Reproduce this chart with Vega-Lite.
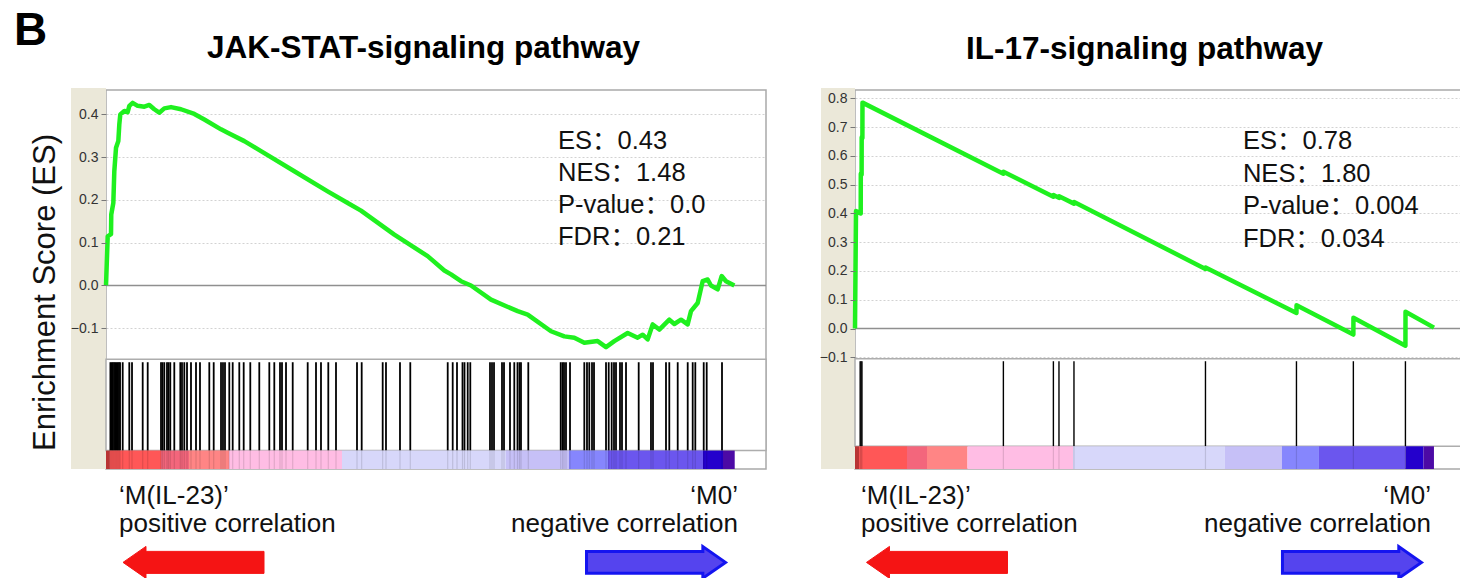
{
  "$schema": "https://vega.github.io/schema/vega-lite/v6.json",
  "background": "white",
  "padding": {"left": 13, "top": 7, "right": 0, "bottom": 0},
  "bounds": "flush",
  "spacing": 89,
  "config": {
    "font": "Liberation Sans, Arial, Noto Sans CJK SC, sans-serif",
    "view": {"stroke": "#a9a9a9", "strokeWidth": 1.5}
  },
  "datasets": {
    "jak_es": [
      {"rank": 0, "es": 0}, {"rank": 70, "es": 0.115}, {"rank": 205, "es": 0.12}, {"rank": 215, "es": 0.166},
      {"rank": 300, "es": 0.193}, {"rank": 340, "es": 0.267}, {"rank": 410, "es": 0.322}, {"rank": 505, "es": 0.338},
      {"rank": 545, "es": 0.377}, {"rank": 585, "es": 0.4}, {"rank": 750, "es": 0.408}, {"rank": 885, "es": 0.405},
      {"rank": 955, "es": 0.42}, {"rank": 1090, "es": 0.427}, {"rank": 1295, "es": 0.42}, {"rank": 1570, "es": 0.418},
      {"rank": 1773, "es": 0.422}, {"rank": 1975, "es": 0.412}, {"rank": 2180, "es": 0.404}, {"rank": 2385, "es": 0.414},
      {"rank": 2660, "es": 0.417}, {"rank": 3068, "es": 0.412}, {"rank": 3613, "es": 0.401}, {"rank": 4022, "es": 0.388},
      {"rank": 4704, "es": 0.365}, {"rank": 4977, "es": 0.357}, {"rank": 5659, "es": 0.3375}, {"rank": 6341, "es": 0.314},
      {"rank": 7704, "es": 0.267}, {"rank": 9068, "es": 0.22}, {"rank": 9977, "es": 0.19}, {"rank": 10432, "es": 0.175},
      {"rank": 11795, "es": 0.119}, {"rank": 13159, "es": 0.0686}, {"rank": 13841, "es": 0.035}, {"rank": 14114, "es": 0.026},
      {"rank": 14523, "es": 0.01}, {"rank": 14932, "es": 0.0}, {"rank": 15750, "es": -0.033}, {"rank": 16841, "es": -0.06},
      {"rank": 17250, "es": -0.068}, {"rank": 18205, "es": -0.107}, {"rank": 18750, "es": -0.119}, {"rank": 19159, "es": -0.122},
      {"rank": 19568, "es": -0.134}, {"rank": 20114, "es": -0.13}, {"rank": 20455, "es": -0.144}, {"rank": 20795, "es": -0.13},
      {"rank": 21341, "es": -0.111}, {"rank": 21750, "es": -0.122}, {"rank": 21955, "es": -0.115}, {"rank": 22160, "es": -0.126},
      {"rank": 22364, "es": -0.091}, {"rank": 22636, "es": -0.103}, {"rank": 23045, "es": -0.08}, {"rank": 23250, "es": -0.09},
      {"rank": 23523, "es": -0.08}, {"rank": 23795, "es": -0.091}, {"rank": 23932, "es": -0.06}, {"rank": 24205, "es": -0.041},
      {"rank": 24409, "es": 0.01}, {"rank": 24614, "es": 0.014}, {"rank": 24750, "es": 0.0}, {"rank": 25023, "es": -0.009},
      {"rank": 25186, "es": 0.022}, {"rank": 25364, "es": 0.01}, {"rank": 25705, "es": 0.0}
    ],
    "jak_hits": [
      {"rank": 180}, {"rank": 230}, {"rank": 280}, {"rank": 330}, {"rank": 380}, {"rank": 430}, {"rank": 480}, {"rank": 530}, {"rank": 575},
      {"rank": 683}, {"rank": 953}, {"rank": 1064}, {"rank": 1501}, {"rank": 1706}, {"rank": 2250}, {"rank": 2311}, {"rank": 2385},
      {"rank": 2495}, {"rank": 2557}, {"rank": 2630}, {"rank": 2794}, {"rank": 3040}, {"rank": 3109}, {"rank": 3203}, {"rank": 3314},
      {"rank": 3477}, {"rank": 3682}, {"rank": 3845}, {"rank": 4226}, {"rank": 4406}, {"rank": 4705}, {"rank": 4786}, {"rank": 4868},
      {"rank": 5044}, {"rank": 5183}, {"rank": 5453}, {"rank": 5633}, {"rank": 5903}, {"rank": 6271}, {"rank": 6681}, {"rank": 6885},
      {"rank": 7118}, {"rank": 7200}, {"rank": 7364}, {"rank": 7638}, {"rank": 8251}, {"rank": 8591}, {"rank": 8795}, {"rank": 9094},
      {"rank": 9409}, {"rank": 10268}, {"rank": 10460}, {"rank": 11319}, {"rank": 11454}, {"rank": 12027}, {"rank": 12448},
      {"rank": 13979}, {"rank": 14183}, {"rank": 14359}, {"rank": 14584}, {"rank": 14666}, {"rank": 14797}, {"rank": 14903},
      {"rank": 15709}, {"rank": 15791}, {"rank": 15873}, {"rank": 16200}, {"rank": 16282}, {"rank": 16527}, {"rank": 16703},
      {"rank": 16834}, {"rank": 16916}, {"rank": 16977}, {"rank": 17276}, {"rank": 18602}, {"rank": 18676}, {"rank": 18737},
      {"rank": 18818}, {"rank": 18982}, {"rank": 19567}, {"rank": 19677}, {"rank": 19771}, {"rank": 19882}, {"rank": 19964},
      {"rank": 20455}, {"rank": 20565}, {"rank": 20687}, {"rank": 20782}, {"rank": 20864}, {"rank": 21027}, {"rank": 21109},
      {"rank": 21273}, {"rank": 21792}, {"rank": 22295}, {"rank": 22377}, {"rank": 22909}, {"rank": 23044}, {"rank": 23388},
      {"rank": 23797}, {"rank": 24001}, {"rank": 24108}, {"rank": 24452}, {"rank": 24574}, {"rank": 25200}
    ],
    "jak_bar": [
      {"seg": 1, "start": 0, "end": 160}, {"seg": 2, "start": 160, "end": 2250}, {"seg": 3, "start": 2250, "end": 3395},
      {"seg": 4, "start": 3395, "end": 5032}, {"seg": 5, "start": 5032, "end": 9655}, {"seg": 6, "start": 9655, "end": 16364},
      {"seg": 7, "start": 16364, "end": 18941}, {"seg": 8, "start": 18941, "end": 20536}, {"seg": 9, "start": 20536, "end": 24423},
      {"seg": 10, "start": 24423, "end": 25241}, {"seg": 11, "start": 25241, "end": 25720}
    ],
    "il_es": [
      {"rank": 0, "es": 0}, {"rank": 45, "es": 0.408}, {"rank": 255, "es": 0.4}, {"rank": 258, "es": 0.538},
      {"rank": 295, "es": 0.535}, {"rank": 298, "es": 0.665}, {"rank": 330, "es": 0.662}, {"rank": 333, "es": 0.785},
      {"rank": 6611, "es": 0.538}, {"rank": 6615, "es": 0.545}, {"rank": 8839, "es": 0.458}, {"rank": 8843, "es": 0.464},
      {"rank": 9088, "es": 0.454}, {"rank": 9092, "es": 0.46}, {"rank": 9756, "es": 0.434}, {"rank": 9760, "es": 0.44},
      {"rank": 15615, "es": 0.207}, {"rank": 15619, "es": 0.212}, {"rank": 19669, "es": 0.054}, {"rank": 19673, "es": 0.081},
      {"rank": 22204, "es": -0.021}, {"rank": 22208, "es": 0.037}, {"rank": 24524, "es": -0.06}, {"rank": 24528, "es": 0.058},
      {"rank": 25795, "es": 0.003}
    ],
    "il_hits": [
      {"rank": 230}, {"rank": 270}, {"rank": 310}, {"rank": 6611}, {"rank": 8839}, {"rank": 9088}, {"rank": 9756},
      {"rank": 15615}, {"rank": 19669}, {"rank": 22204}, {"rank": 24524}
    ],
    "il_bar": [
      {"seg": 1, "start": 0, "end": 178}, {"seg": 2, "start": 178, "end": 2317}, {"seg": 3, "start": 2317, "end": 3208},
      {"seg": 4, "start": 3208, "end": 5012}, {"seg": 5, "start": 5012, "end": 9712}, {"seg": 6, "start": 9712, "end": 16484},
      {"seg": 7, "start": 16484, "end": 19023}, {"seg": 8, "start": 19023, "end": 20671}, {"seg": 9, "start": 20671, "end": 24525},
      {"seg": 10, "start": 24525, "end": 25327}, {"seg": 11, "start": 25327, "end": 25795}
    ]
  },
  "hconcat": [
    {
      "width": 660,
      "height": 379,
      "resolve": {"axis": {"y": "independent"}},
      "layer": [
        {
          "data": {"values": [{}]},
          "mark": {"type": "rect", "color": "#ebe8d9", "clip": false},
          "encoding": {
            "x": {"datum": -1432, "type": "quantitative", "scale": {"domain": [0, 27000], "nice": false, "zero": false},
              "axis": {"grid": true, "gridDash": [2, 2], "gridColor": "#d2d2d2", "labels": false, "ticks": false, "domain": false, "title": null, "values": [5000, 10000, 15000, 20000, 25000], "zindex": 0}},
            "x2": {"datum": 0},
            "y": {"datum": -0.429, "type": "quantitative", "scale": {"domain": [-0.429, 0.457], "nice": false, "zero": false},
              "axis": {"orient": "left", "grid": true, "gridDash": [2, 2], "gridColor": "#d2d2d2", "labels": false, "ticks": false, "domain": false, "title": null, "values": [-0.1, 0.1, 0.2, 0.3, 0.4], "zindex": 0}},
            "y2": {"datum": 0.4615}
          }
        },
        {
          "data": {"values": [{}]},
          "mark": {"type": "rule", "color": "#8f8f8f", "strokeWidth": 1.3},
          "encoding": {
            "x": {"datum": 0, "type": "quantitative", "scale": {"domain": [0, 27000], "nice": false, "zero": false}, "axis": null},
            "x2": {"datum": 27000},
            "y": {"datum": 0, "type": "quantitative", "scale": {"domain": [-0.429, 0.457], "nice": false, "zero": false},
              "axis": {"orient": "left", "grid": false, "values": [-0.1, 0, 0.1, 0.2, 0.3, 0.4], "format": ".1f", "labelFontSize": 14, "labelColor": "#333333", "labelPadding": 3, "tickSize": 5, "tickColor": "#777777", "domain": false, "zindex": 1,
                "title": "Enrichment Score (ES)", "titleFontSize": 31, "titleFontWeight": "normal", "titleColor": "#111111", "titleX": -52, "titleY": 202, "titleAngle": 270, "titleAlign": "center", "titleBaseline": "alphabetic"}}
          }
        },
        {
          "data": {"name": "jak_es"},
          "mark": {"type": "line", "color": "#1ff01f", "strokeWidth": 4.5, "strokeJoin": "round"},
          "encoding": {
            "x": {"field": "rank", "type": "quantitative", "scale": {"domain": [0, 27000], "nice": false, "zero": false}, "axis": null},
            "y": {"field": "es", "type": "quantitative", "scale": {"domain": [-0.429, 0.457], "nice": false, "zero": false}, "axis": null}
          }
        },
        {
          "data": {"values": [{}]},
          "mark": {"type": "rect", "fill": "white", "stroke": "#adadad", "strokeWidth": 1.5},
          "encoding": {
            "x": {"datum": 0, "type": "quantitative", "scale": {"domain": [0, 27000], "nice": false, "zero": false}, "axis": null},
            "x2": {"datum": 27000},
            "y": {"datum": -0.1724, "type": "quantitative", "scale": {"domain": [-0.429, 0.457], "nice": false, "zero": false}, "axis": null},
            "y2": {"datum": -0.386}
          }
        },
        {
          "data": {"name": "jak_hits"},
          "mark": {"type": "rule", "color": "#000000", "strokeWidth": 1.8},
          "encoding": {
            "x": {"field": "rank", "type": "quantitative", "scale": {"domain": [0, 27000], "nice": false, "zero": false}, "axis": null},
            "y": {"datum": -0.1794, "type": "quantitative", "scale": {"domain": [-0.429, 0.457], "nice": false, "zero": false}, "axis": null},
            "y2": {"datum": -0.386}
          }
        },
        {
          "data": {"name": "jak_bar"},
          "mark": {"type": "rect"},
          "encoding": {
            "x": {"field": "start", "type": "quantitative", "scale": {"domain": [0, 27000], "nice": false, "zero": false}, "axis": null},
            "x2": {"field": "end"},
            "y": {"datum": -0.386, "type": "quantitative", "scale": {"domain": [-0.429, 0.457], "nice": false, "zero": false}, "axis": null},
            "y2": {"datum": -0.429},
            "color": {"field": "seg", "type": "ordinal", "legend": null,
              "scale": {"domain": [1, 2, 3, 4, 5, 6, 7, 8, 9, 10, 11], "range": ["#b83434", "#ff5757", "#f3667c", "#ff8585", "#ffbde4", "#d7d7fa", "#c6c0f7", "#8686fd", "#6b56ee", "#2400cc", "#4c0aa5"]}}
          }
        },
        {
          "data": {"name": "jak_hits"},
          "mark": {"type": "rule", "color": "#000000", "strokeWidth": 1.2, "opacity": 0.12},
          "encoding": {
            "x": {"field": "rank", "type": "quantitative", "scale": {"domain": [0, 27000], "nice": false, "zero": false}, "axis": null},
            "y": {"datum": -0.386, "type": "quantitative", "scale": {"domain": [-0.429, 0.457], "nice": false, "zero": false}, "axis": null},
            "y2": {"datum": -0.429}
          }
        },
        {
          "data": {"values": [{}]},
          "mark": {"type": "text", "align": "left", "baseline": "alphabetic", "fontSize": 25.5, "lineHeight": 32, "color": "#111111"},
          "encoding": {
            "x": {"datum": 18491, "type": "quantitative", "scale": {"domain": [0, 27000], "nice": false, "zero": false}, "axis": null},
            "y": {"datum": 0.3188, "type": "quantitative", "scale": {"domain": [-0.429, 0.457], "nice": false, "zero": false}, "axis": null},
            "text": {"value": ["ES：0.43", "NES：1.48", "P-value：0.0", "FDR：0.21"]}
          }
        },
        {
          "data": {"values": [{}]},
          "mark": {"type": "text", "align": "center", "baseline": "alphabetic", "fontSize": 31.5, "fontWeight": "bold", "color": "#000000"},
          "encoding": {
            "x": {"datum": 12989, "type": "quantitative", "scale": {"domain": [0, 27000], "nice": false, "zero": false}, "axis": null},
            "y": {"datum": 0.5326, "type": "quantitative", "scale": {"domain": [-0.429, 0.457], "nice": false, "zero": false}, "axis": null},
            "text": {"value": "JAK-STAT-signaling pathway"}
          }
        },
        {
          "data": {"values": [{}]},
          "mark": {"type": "text", "align": "left", "baseline": "alphabetic", "fontSize": 46, "fontWeight": "bold", "color": "#000000"},
          "encoding": {
            "x": {"datum": -3764, "type": "quantitative", "scale": {"domain": [0, 27000], "nice": false, "zero": false}, "axis": null},
            "y": {"datum": 0.5621, "type": "quantitative", "scale": {"domain": [-0.429, 0.457], "nice": false, "zero": false}, "axis": null},
            "text": {"value": "B"}
          }
        },
        {
          "data": {"values": [{}]},
          "mark": {"type": "text", "align": "left", "baseline": "alphabetic", "fontSize": 26, "lineHeight": 28, "color": "#111111"},
          "encoding": {
            "x": {"datum": 532, "type": "quantitative", "scale": {"domain": [0, 27000], "nice": false, "zero": false}, "axis": null},
            "y": {"datum": -0.5116, "type": "quantitative", "scale": {"domain": [-0.429, 0.457], "nice": false, "zero": false}, "axis": null},
            "text": {"value": ["‘M(IL-23)’", "positive correlation"]}
          }
        },
        {
          "data": {"values": [{}]},
          "mark": {"type": "text", "align": "right", "baseline": "alphabetic", "fontSize": 26, "lineHeight": 28, "color": "#111111"},
          "encoding": {
            "x": {"datum": 25855, "type": "quantitative", "scale": {"domain": [0, 27000], "nice": false, "zero": false}, "axis": null},
            "y": {"datum": -0.5116, "type": "quantitative", "scale": {"domain": [-0.429, 0.457], "nice": false, "zero": false}, "axis": null},
            "text": {"value": ["‘M0’", "negative correlation"]}
          }
        },
        {
          "data": {"values": [{}]},
          "mark": {"type": "point", "shape": "M-1,0 L-0.674,-0.227 L-0.674,-0.156 L1,-0.156 L1,0.156 L-0.674,0.156 L-0.674,0.227 Z", "size": 19881, "filled": true, "fill": "#f51414", "stroke": "#f51414", "strokeWidth": 1, "strokeJoin": "round", "opacity": 1},
          "encoding": {
            "x": {"datum": 3580, "type": "quantitative", "scale": {"domain": [0, 27000], "nice": false, "zero": false}, "axis": null},
            "y": {"datum": -0.6473, "type": "quantitative", "scale": {"domain": [-0.429, 0.457], "nice": false, "zero": false}, "axis": null}
          }
        },
        {
          "data": {"values": [{}]},
          "mark": {"type": "point", "shape": "M1,0 L0.674,-0.227 L0.674,-0.156 L-1,-0.156 L-1,0.156 L0.674,0.156 L0.674,0.227 Z", "size": 19321, "filled": true, "fill": "#5544ee", "stroke": "#1414f0", "strokeWidth": 3, "opacity": 1},
          "encoding": {
            "x": {"datum": 22500, "type": "quantitative", "scale": {"domain": [0, 27000], "nice": false, "zero": false}, "axis": null},
            "y": {"datum": -0.6473, "type": "quantitative", "scale": {"domain": [-0.429, 0.457], "nice": false, "zero": false}, "axis": null}
          }
        }
      ]
    },
    {
      "width": 606,
      "height": 379,
      "resolve": {"axis": {"y": "independent"}},
      "layer": [
        {
          "data": {"values": [{}]},
          "mark": {"type": "rect", "color": "#ebe8d9", "clip": false},
          "encoding": {
            "x": {"datum": -1515, "type": "quantitative", "scale": {"domain": [0, 27000], "nice": false, "zero": false},
              "axis": {"grid": true, "gridDash": [2, 2], "gridColor": "#d2d2d2", "labels": false, "ticks": false, "domain": false, "title": null, "values": [5000, 10000, 15000, 20000, 25000], "zindex": 0}},
            "x2": {"datum": 0},
            "y": {"datum": -0.4883, "type": "quantitative", "scale": {"domain": [-0.4883, 0.8289], "nice": false, "zero": false},
              "axis": {"orient": "left", "grid": true, "gridDash": [2, 2], "gridColor": "#d2d2d2", "labels": false, "ticks": false, "domain": false, "title": null, "values": [-0.1, 0.1, 0.2, 0.3, 0.4, 0.5, 0.6, 0.7, 0.8], "zindex": 0}},
            "y2": {"datum": 0.8359}
          }
        },
        {
          "data": {"values": [{}]},
          "mark": {"type": "rule", "color": "#8f8f8f", "strokeWidth": 1.3},
          "encoding": {
            "x": {"datum": 0, "type": "quantitative", "scale": {"domain": [0, 27000], "nice": false, "zero": false}, "axis": null},
            "x2": {"datum": 27000},
            "y": {"datum": 0, "type": "quantitative", "scale": {"domain": [-0.4883, 0.8289], "nice": false, "zero": false},
              "axis": {"orient": "left", "grid": false, "values": [-0.1, 0, 0.1, 0.2, 0.3, 0.4, 0.5, 0.6, 0.7, 0.8], "format": ".1f", "labelFontSize": 14, "labelColor": "#333333", "labelPadding": 3, "tickSize": 5, "tickColor": "#777777", "domain": false, "zindex": 1, "title": null}}
          }
        },
        {
          "data": {"name": "il_es"},
          "mark": {"type": "line", "color": "#1ff01f", "strokeWidth": 4.5, "strokeJoin": "round"},
          "encoding": {
            "x": {"field": "rank", "type": "quantitative", "scale": {"domain": [0, 27000], "nice": false, "zero": false}, "axis": null},
            "y": {"field": "es", "type": "quantitative", "scale": {"domain": [-0.4883, 0.8289], "nice": false, "zero": false}, "axis": null}
          }
        },
        {
          "data": {"values": [{}]},
          "mark": {"type": "rect", "fill": "white", "stroke": "#adadad", "strokeWidth": 1.5},
          "encoding": {
            "x": {"datum": 0, "type": "quantitative", "scale": {"domain": [0, 27000], "nice": false, "zero": false}, "axis": null},
            "x2": {"datum": 27000},
            "y": {"datum": -0.105, "type": "quantitative", "scale": {"domain": [-0.4883, 0.8289], "nice": false, "zero": false}, "axis": null},
            "y2": {"datum": -0.4094}
          }
        },
        {
          "data": {"name": "il_hits"},
          "mark": {"type": "rule", "color": "#000000", "strokeWidth": 1.4},
          "encoding": {
            "x": {"field": "rank", "type": "quantitative", "scale": {"domain": [0, 27000], "nice": false, "zero": false}, "axis": null},
            "y": {"datum": -0.1137, "type": "quantitative", "scale": {"domain": [-0.4883, 0.8289], "nice": false, "zero": false}, "axis": null},
            "y2": {"datum": -0.4094}
          }
        },
        {
          "data": {"name": "il_bar"},
          "mark": {"type": "rect"},
          "encoding": {
            "x": {"field": "start", "type": "quantitative", "scale": {"domain": [0, 27000], "nice": false, "zero": false}, "axis": null},
            "x2": {"field": "end"},
            "y": {"datum": -0.4094, "type": "quantitative", "scale": {"domain": [-0.4883, 0.8289], "nice": false, "zero": false}, "axis": null},
            "y2": {"datum": -0.4883},
            "color": {"field": "seg", "type": "ordinal", "legend": null,
              "scale": {"domain": [1, 2, 3, 4, 5, 6, 7, 8, 9, 10, 11], "range": ["#b83434", "#ff5757", "#f3667c", "#ff8585", "#ffbde4", "#d7d7fa", "#c6c0f7", "#8686fd", "#6b56ee", "#2400cc", "#4c0aa5"]}}
          }
        },
        {
          "data": {"name": "il_hits"},
          "mark": {"type": "rule", "color": "#000000", "strokeWidth": 1.2, "opacity": 0.12},
          "encoding": {
            "x": {"field": "rank", "type": "quantitative", "scale": {"domain": [0, 27000], "nice": false, "zero": false}, "axis": null},
            "y": {"datum": -0.4094, "type": "quantitative", "scale": {"domain": [-0.4883, 0.8289], "nice": false, "zero": false}, "axis": null},
            "y2": {"datum": -0.4883}
          }
        },
        {
          "data": {"values": [{}]},
          "mark": {"type": "text", "align": "left", "baseline": "alphabetic", "fontSize": 25.5, "lineHeight": 32.5, "color": "#111111"},
          "encoding": {
            "x": {"datum": 17285, "type": "quantitative", "scale": {"domain": [0, 27000], "nice": false, "zero": false}, "axis": null},
            "y": {"datum": 0.6237, "type": "quantitative", "scale": {"domain": [-0.4883, 0.8289], "nice": false, "zero": false}, "axis": null},
            "text": {"value": ["ES：0.78", "NES：1.80", "P-value：0.004", "FDR：0.034"]}
          }
        },
        {
          "data": {"values": [{}]},
          "mark": {"type": "text", "align": "center", "baseline": "alphabetic", "fontSize": 31.5, "fontWeight": "bold", "color": "#000000"},
          "encoding": {
            "x": {"datum": 12900, "type": "quantitative", "scale": {"domain": [0, 27000], "nice": false, "zero": false}, "axis": null},
            "y": {"datum": 0.9367, "type": "quantitative", "scale": {"domain": [-0.4883, 0.8289], "nice": false, "zero": false}, "axis": null},
            "text": {"value": "IL-17-signaling pathway"}
          }
        },
        {
          "data": {"values": [{}]},
          "mark": {"type": "text", "align": "left", "baseline": "alphabetic", "fontSize": 26, "lineHeight": 28, "color": "#111111"},
          "encoding": {
            "x": {"datum": 267, "type": "quantitative", "scale": {"domain": [0, 27000], "nice": false, "zero": false}, "axis": null},
            "y": {"datum": -0.6111, "type": "quantitative", "scale": {"domain": [-0.4883, 0.8289], "nice": false, "zero": false}, "axis": null},
            "text": {"value": ["‘M(IL-23)’", "positive correlation"]}
          }
        },
        {
          "data": {"values": [{}]},
          "mark": {"type": "text", "align": "right", "baseline": "alphabetic", "fontSize": 26, "lineHeight": 28, "color": "#111111"},
          "encoding": {
            "x": {"datum": 25661, "type": "quantitative", "scale": {"domain": [0, 27000], "nice": false, "zero": false}, "axis": null},
            "y": {"datum": -0.6111, "type": "quantitative", "scale": {"domain": [-0.4883, 0.8289], "nice": false, "zero": false}, "axis": null},
            "text": {"value": ["‘M0’", "negative correlation"]}
          }
        },
        {
          "data": {"values": [{}]},
          "mark": {"type": "point", "shape": "M-1,0 L-0.674,-0.227 L-0.674,-0.156 L1,-0.156 L1,0.156 L-0.674,0.156 L-0.674,0.227 Z", "size": 19881, "filled": true, "fill": "#f51414", "stroke": "#f51414", "strokeWidth": 1, "strokeJoin": "round", "opacity": 1},
          "encoding": {
            "x": {"datum": 3653, "type": "quantitative", "scale": {"domain": [0, 27000], "nice": false, "zero": false}, "axis": null},
            "y": {"datum": -0.8129, "type": "quantitative", "scale": {"domain": [-0.4883, 0.8289], "nice": false, "zero": false}, "axis": null}
          }
        },
        {
          "data": {"values": [{}]},
          "mark": {"type": "point", "shape": "M1,0 L0.674,-0.227 L0.674,-0.156 L-1,-0.156 L-1,0.156 L0.674,0.156 L0.674,0.227 Z", "size": 19321, "filled": true, "fill": "#5544ee", "stroke": "#1414f0", "strokeWidth": 3, "opacity": 1},
          "encoding": {
            "x": {"datum": 22141, "type": "quantitative", "scale": {"domain": [0, 27000], "nice": false, "zero": false}, "axis": null},
            "y": {"datum": -0.8129, "type": "quantitative", "scale": {"domain": [-0.4883, 0.8289], "nice": false, "zero": false}, "axis": null}
          }
        }
      ]
    }
  ]
}
